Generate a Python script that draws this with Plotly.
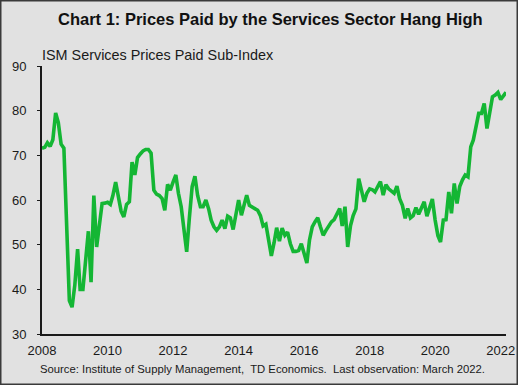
import pandas as pd
import plotly.graph_objects as go

# Monthly ISM Services Prices Paid index, Jan 2008 - Mar 2022
v2008 = [71.6, 71.8, 72.8, 72.0, 73.5, 79.5, 77.3, 72.5, 71.6, 55.0, 37.5, 36.0]
v2009 = [41.0, 49.0, 40.0, 40.0, 47.0, 53.0, 41.6, 61.0, 49.5, 54.5, 59.2, 59.3]
v2010 = [59.5, 59.0, 61.0, 64.0, 60.5, 57.5, 56.2, 59.0, 59.6, 68.5, 65.6, 69.5]
v2011 = [70.3, 71.0, 71.3, 71.3, 70.5, 62.2, 61.3, 61.0, 60.3, 57.7, 63.5, 62.2]
v2012 = [64.0, 65.6, 61.5, 58.5, 53.5, 48.4, 56.0, 63.0, 65.3, 61.0, 58.5, 58.5]
v2013 = [60.0, 58.0, 55.5, 54.0, 53.2, 54.0, 55.5, 53.6, 56.4, 56.0, 53.4, 56.5]
v2014 = [60.0, 56.6, 58.5, 61.1, 58.8, 58.4, 58.0, 57.7, 56.5, 54.2, 54.6, 51.0]
v2015 = [47.5, 50.5, 53.8, 50.8, 53.7, 52.1, 52.8, 50.2, 48.5, 48.5, 48.7, 50.2]
v2016 = [48.0, 45.9, 51.0, 54.0, 55.1, 56.0, 54.0, 52.1, 53.2, 54.3, 55.1, 55.6]
v2017 = [57.0, 58.1, 54.2, 58.5, 49.5, 54.2, 56.5, 58.0, 64.8, 61.8, 59.6, 61.5]
v2018 = [62.5, 62.3, 61.8, 63.0, 64.1, 61.1, 63.4, 62.5, 62.0, 61.5, 63.1, 60.3]
v2019 = [58.8, 55.9, 58.1, 56.0, 56.5, 58.3, 56.8, 58.0, 59.6, 56.4, 58.5, 60.2]
v2020 = [55.5, 52.0, 50.6, 55.5, 55.6, 61.8, 57.0, 63.7, 59.2, 63.0, 64.5, 65.6]
v2021 = [65.2, 71.9, 73.4, 76.5, 79.4, 79.4, 81.6, 76.0, 79.5, 83.1, 83.5, 84.1]
v2022 = [82.5, 83.3, 84.1]

values = (v2008 + v2009 + v2010 + v2011 + v2012 + v2013 + v2014 + v2015 +
          v2016 + v2017 + v2018 + v2019 + v2020 + v2021 + v2022)
dates = pd.date_range("2008-01-01", periods=len(values), freq="MS")

tick_years = ["2008", "2010", "2012", "2014", "2016", "2018", "2020", "2022"]
tick_vals = [f"{y}-01-01" for y in tick_years]
y_ticks = [30, 40, 50, 60, 70, 80, 90]

W, H = 518, 385
L, R, T, B = 42, 12, 66, 51
pw, ph = W - L - R, H - T - B

fig = go.Figure()
fig.add_trace(go.Scatter(
    x=dates, y=values, mode="lines",
    line=dict(color="#14B634", width=3.6),
    hoverinfo="skip", showlegend=False,
))

font = "Liberation Sans, Arial, sans-serif"
fig.update_layout(
    width=W, height=H,
    margin=dict(l=L, r=R, t=T, b=B, autoexpand=False),
    paper_bgcolor="#E1E1E1", plot_bgcolor="#E1E1E1",
    font=dict(family=font, size=13, color="#1a1a1a"),
    hovermode=False,
    xaxis=dict(
        range=["2008-01-01", "2022-03-01"],
        tickvals=tick_vals, ticktext=tick_years,
        showgrid=False, zeroline=False, automargin=False,
        showline=True, linecolor="#1a1a1a", linewidth=2,
        ticks="", tickfont=dict(size=13, family=font),
        ticklabelstandoff=3,
    ),
    yaxis=dict(
        range=[30, 90], tickvals=y_ticks,
        showgrid=False, zeroline=False, automargin=False,
        showline=True, linecolor="#1a1a1a", linewidth=2,
        ticks="outside", ticklen=3, tickcolor="#1a1a1a",
        tickfont=dict(size=13, family=font),
        ticklabelstandoff=8,
    ),
    annotations=[
        dict(text="<b>Chart 1: Prices Paid by the Services Sector Hang High</b>",
             xref="paper", yref="paper",
             x=(270 - L) / pw, y=(H - B - 19) / ph,
             xanchor="center", yanchor="middle", showarrow=False,
             font=dict(size=16.5, family=font, color="#111")),
        dict(text="ISM Services Prices Paid Sub-Index",
             xref="paper", yref="paper",
             x=(40 - L) / pw, y=(H - B - 55) / ph,
             xanchor="left", yanchor="middle", showarrow=False,
             font=dict(size=14.4, family=font, color="#1a1a1a")),
        dict(text="Source: Institute of Supply Management,  TD Economics.  Last observation: March 2022.",
             xref="paper", yref="paper",
             x=(262 - L) / pw, y=(H - B - 369) / ph,
             xanchor="center", yanchor="middle", showarrow=False,
             font=dict(size=11.3, family=font, color="#1a1a1a")),
    ],
    shapes=[
        dict(type="rect", xref="paper", yref="paper",
             x0=(0.75 - L) / pw, x1=(W - 0.75 - L) / pw,
             y0=(H - B - (H - 0.75)) / ph, y1=(H - B - 0.75) / ph,
             line=dict(color="#3a3a3a", width=1.5), fillcolor="rgba(0,0,0,0)",
             layer="above"),
    ],
)

fig.write_html("out.html", config={"displayModeBar": False, "staticPlot": True},
               post_script="document.body.style.margin='0px';")
